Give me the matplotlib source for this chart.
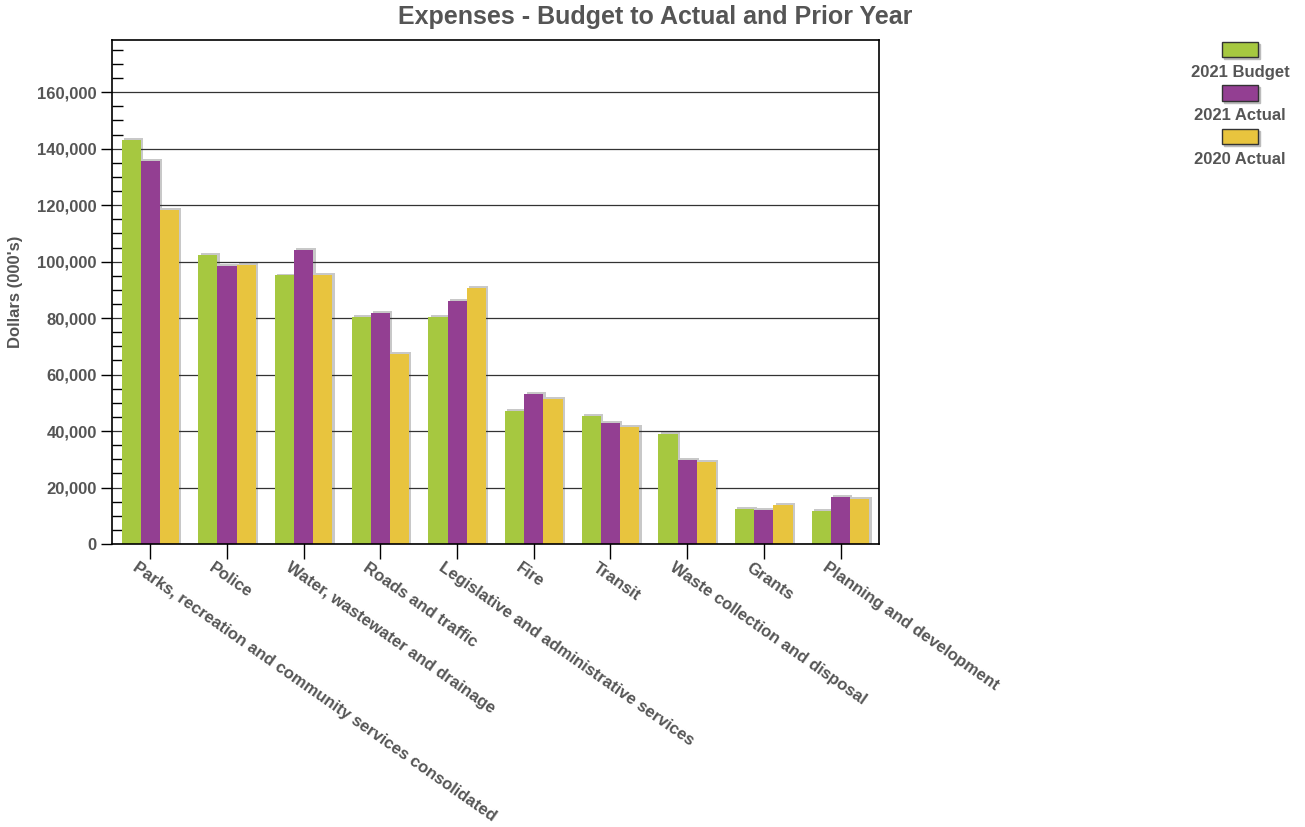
import numpy as np
import matplotlib
matplotlib.use("Agg")
import matplotlib.pyplot as plt
from matplotlib.patches import Rectangle
from matplotlib.ticker import MultipleLocator, FuncFormatter
from matplotlib.transforms import ScaledTranslation

categories = ['Parks, recreation and community services consolidated', 'Police',
              'Water, wastewater and drainage', 'Roads and traffic',
              'Legislative and administrative services', 'Fire', 'Transit',
              'Waste collection and disposal', 'Grants', 'Planning and development']
series_names = ['2021 Budget', '2021 Actual', '2020 Actual']
budget_2021 = [143000, 102200, 95100, 80500, 80500, 47000, 45300, 38900, 12400, 11700]
actual_2021 = [135800, 98300, 104000, 81800, 86000, 53100, 42800, 29700, 12000, 16600]
actual_2020 = [118200, 98700, 95200, 67200, 90600, 51200, 41300, 29100, 13700, 15900]
colors = ['#a6c840', '#933f92', '#e8c43e']
text_color = '#555555'

plt.rcParams['font.family'] = ['Liberation Sans', 'DejaVu Sans']

fig = plt.figure(figsize=(13.05, 8.27), dpi=100)
ax = fig.add_axes([0.0858, 0.3422, 0.5877, 0.6094])

x = np.arange(len(categories))
width = 0.25
for i, vals in enumerate([budget_2021, actual_2021, actual_2020]):
    pos = x + (i - 1) * width
    # soft shadow behind each bar
    ax.bar(pos + 0.03, np.array(vals) + 700, width, color='#c8c8c8', zorder=2)
    ax.bar(pos, vals, width, color=colors[i], zorder=3)

ax.set_xlim(-0.5, len(categories) - 0.5)
ax.set_ylim(0, 178500)
ax.yaxis.set_major_locator(MultipleLocator(20000))
ax.yaxis.set_minor_locator(MultipleLocator(5000))
ax.yaxis.set_major_formatter(FuncFormatter(lambda v, p: f'{int(v):,}'))
ax.grid(axis='y', color='#333333', linewidth=0.9, zorder=4)
ax.set_axisbelow(False)
for s in ax.spines.values():
    s.set_color('black')
    s.set_linewidth(1.2)
    s.set_zorder(5)

ax.tick_params(axis='y', which='major', direction='out', length=8, width=1,
               labelsize=12, labelcolor=text_color, pad=3)
ax.tick_params(axis='y', which='minor', direction='in', length=8, width=1)
ax.tick_params(axis='x', which='major', direction='inout', length=22, width=1,
               labelsize=12, labelcolor=text_color)
for lbl in ax.get_yticklabels():
    lbl.set_fontweight('bold')

ax.set_xticks(x)
ax.set_xticklabels(categories, rotation=-35, ha='left', va='top',
                   rotation_mode='anchor', fontweight='bold')
offset = ScaledTranslation(-12 / 100, 4 / 100, fig.dpi_scale_trans)
for lbl in ax.get_xticklabels():
    lbl.set_transform(lbl.get_transform() + offset)

ax.set_ylabel("Dollars (000's)", fontsize=12, fontweight='bold', color=text_color,
              labelpad=10)

fig.text(0.502, 0.979, 'Expenses - Budget to Actual and Prior Year', ha='center',
         va='center', fontsize=18, fontweight='bold', color=text_color)

# legend: swatch above centered label
lx, lw, lh = 1222 / 1305, 36 / 1305, 15 / 827
for i, name in enumerate(series_names):
    top = 1 - (42 + i * 43.5) / 827
    fig.patches.append(Rectangle((lx + 2 / 1305, top - lh - 2 / 827), lw, lh,
                                 transform=fig.transFigure, color='#bbbbbb'))
    fig.patches.append(Rectangle((lx, top - lh), lw, lh, transform=fig.transFigure,
                                 facecolor=colors[i], edgecolor='#333333', linewidth=1))
    fig.text(lx + lw / 2, top - 30 / 827, name, ha='center', va='center',
             fontsize=12, fontweight='bold', color=text_color)

fig.savefig('out.png', dpi=100)
